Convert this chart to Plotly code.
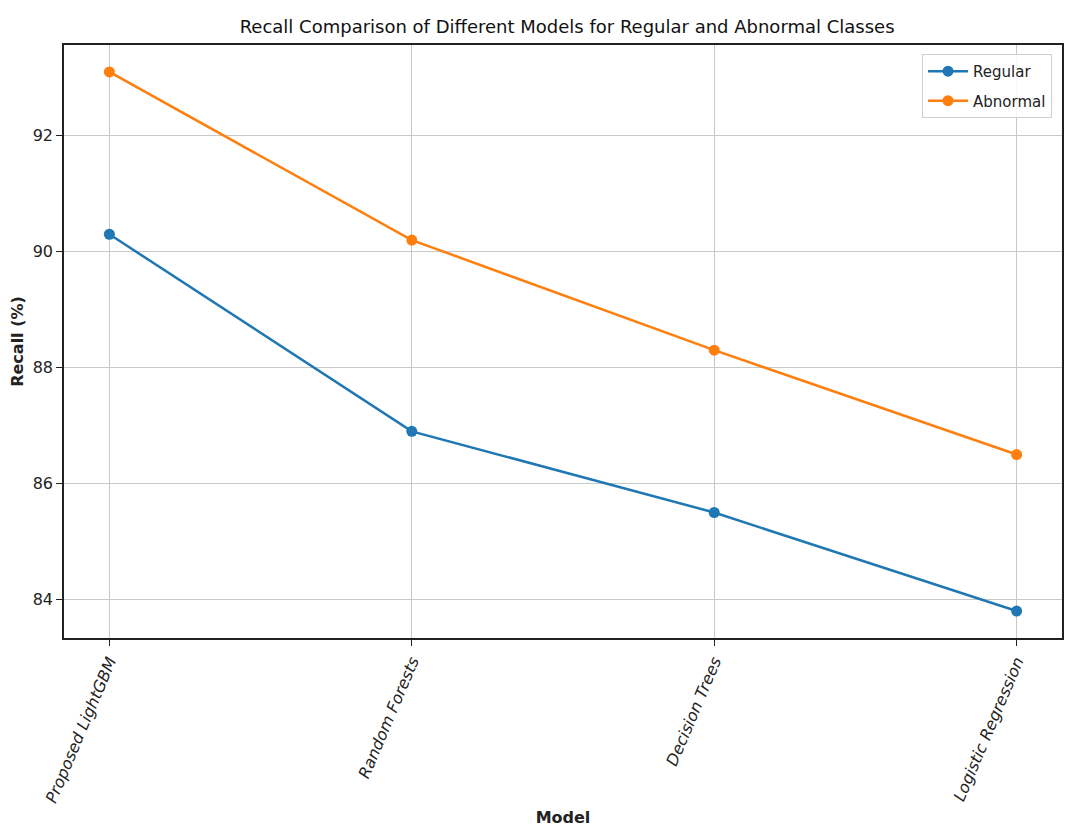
import plotly.graph_objects as go

models = ["Proposed LightGBM", "Random Forests", "Decision Trees", "Logistic Regression"]
regular = [90.3, 86.9, 85.5, 83.8]
abnormal = [93.1, 90.2, 88.3, 86.5]
y_ticks = [84, 86, 88, 90, 92]

blue = "#1f77b4"
orange = "#ff7f0e"

fig = go.Figure()
fig.add_trace(go.Scatter(x=models, y=regular, mode="lines+markers", name="Regular", legendgroup="r",
                         line=dict(color=blue, width=2.5), marker=dict(size=11, color=blue)))
fig.add_trace(go.Scatter(x=models, y=abnormal, mode="lines+markers", name="Abnormal", legendgroup="a",
                         line=dict(color=orange, width=2.5), marker=dict(size=11, color=orange)))

# page body has an 8px margin, so the figure is sized/offset to compensate
fig.update_layout(
    width=1065, height=819,
    margin=dict(l=56, r=11, t=37, b=189, autoexpand=False),
    paper_bgcolor="white", plot_bgcolor="white",
    font=dict(family="DejaVu Sans", size=14, color="#222"),
    title=dict(text="Recall Comparison of Different Models for Regular and Abnormal Classes",
               x=0.525, xanchor="center", y=0.9768, yanchor="middle",
               font=dict(size=18, color="#111")),
    legend=dict(x=0.99, y=0.985, xanchor="right", yanchor="top",
                bgcolor="rgba(255,255,255,0.85)", bordercolor="#d0d0d0", borderwidth=1,
                font=dict(size=15), itemwidth=40, tracegroupgap=7),
    showlegend=True,
)
fig.update_xaxes(
    range=[-0.15, 3.15], showgrid=True, gridcolor="#c8c8c8", gridwidth=1,
    showline=True, linecolor="#222", linewidth=1.5, mirror=True,
    ticks="outside", ticklen=6, tickcolor="#222", tickangle=-67,
    tickfont=dict(size=16, style="italic"), automargin=False,
    title=dict(text="<b>Model</b>", font=dict(size=16), standoff=12),
)
fig.update_yaxes(
    range=[83.335, 93.565], tickvals=y_ticks, showgrid=True, gridcolor="#c8c8c8", gridwidth=1,
    showline=True, linecolor="#222", linewidth=1.5, mirror=True,
    ticks="outside", ticklen=6, tickcolor="#222", tickfont=dict(size=16),
    title=dict(text="<b>Recall (%)</b>", font=dict(size=16), standoff=8),
    zeroline=False, automargin=False,
)

fig.write_html("out.html")
